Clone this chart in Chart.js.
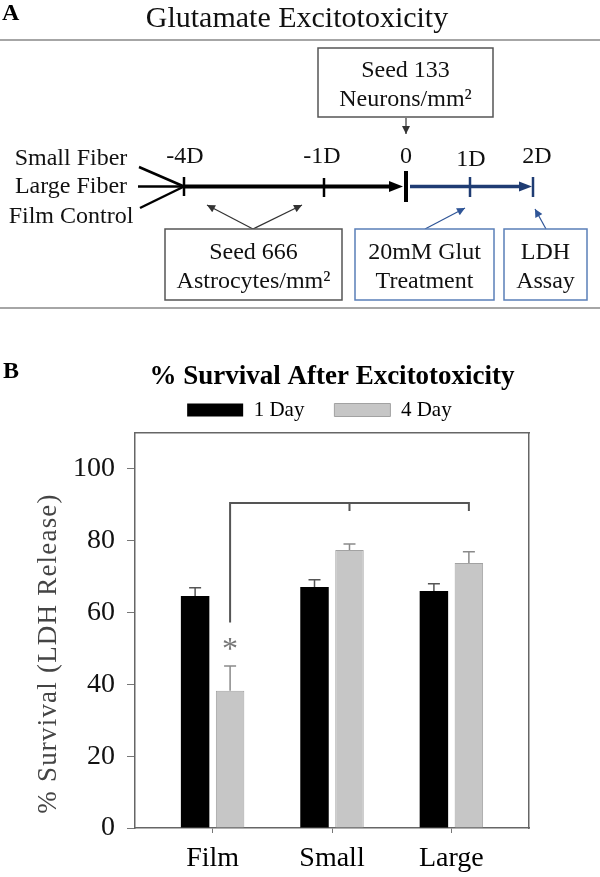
<!DOCTYPE html>
<html><head><meta charset="utf-8">
<script src="https://cdn.jsdelivr.net/npm/chart.js@4.4.1/dist/chart.umd.min.js"></script>
<style>
html,body{margin:0;padding:0;background:#fff;width:600px;height:877px;overflow:hidden;}
#wrap{position:relative;width:600px;height:877px;}
#c{position:absolute;left:0;top:0;}
svg{position:absolute;left:0;top:0;}
.lbl{position:absolute;font-family:'Liberation Serif','Times New Roman',serif;font-weight:bold;color:#000;}
</style></head><body>
<div id="wrap">
<canvas id="c" width="600" height="877"></canvas>
<svg width="600" height="320" viewBox="0 0 600 320" font-family="Liberation Serif, Times New Roman, serif">
  <defs>
    <marker id="ahg" viewBox="0 0 10 10" refX="10" refY="5" markerWidth="10" markerHeight="8" markerUnits="userSpaceOnUse" orient="auto"><path d="M0,0 L10,5 L0,10 z" fill="#333"/></marker>
    <marker id="ahb" viewBox="0 0 10 10" refX="10" refY="5" markerWidth="10" markerHeight="8" markerUnits="userSpaceOnUse" orient="auto"><path d="M0,0 L10,5 L0,10 z" fill="#2f5597"/></marker>
  </defs>
  <text x="2" y="20" font-size="24" font-weight="bold" fill="#000">A</text>
  <text x="297" y="27" font-size="30" text-anchor="middle" fill="#111">Glutamate Excitotoxicity</text>
  <line x1="0" y1="40" x2="600" y2="40" stroke="#a6a6a6" stroke-width="2"/>

  <rect x="318" y="48" width="175" height="69" fill="#fff" stroke="#555" stroke-width="1.5"/>
  <text x="405.5" y="77" font-size="24" text-anchor="middle" fill="#111">Seed 133</text>
  <text x="405.5" y="106" font-size="24" text-anchor="middle" fill="#111">Neurons/mm²</text>
  <line x1="406" y1="118" x2="406" y2="134" stroke="#333" stroke-width="1.2" marker-end="url(#ahg)"/>

  <text x="71" y="165" font-size="24" text-anchor="middle" fill="#111">Small Fiber</text>
  <text x="71" y="193" font-size="24" text-anchor="middle" fill="#111">Large Fiber</text>
  <text x="71" y="223" font-size="24" text-anchor="middle" fill="#111">Film Control</text>
  <line x1="139" y1="167" x2="184" y2="186.5" stroke="#000" stroke-width="2.5"/>
  <line x1="138" y1="186.5" x2="184" y2="186.5" stroke="#000" stroke-width="2.5"/>
  <line x1="140" y1="208" x2="184" y2="186.5" stroke="#000" stroke-width="2.5"/>

  <line x1="184" y1="186.5" x2="392" y2="186.5" stroke="#000" stroke-width="4"/>
  <polygon points="389,181 403,186.5 389,192" fill="#000"/>
  <line x1="184" y1="177" x2="184" y2="196" stroke="#000" stroke-width="2.5"/>
  <line x1="324" y1="178" x2="324" y2="197" stroke="#000" stroke-width="2.5"/>
  <line x1="406" y1="171" x2="406" y2="202" stroke="#000" stroke-width="4"/>

  <line x1="410" y1="186.5" x2="522" y2="186.5" stroke="#1f3c73" stroke-width="3.5"/>
  <polygon points="519,181.5 532,186.5 519,191.5" fill="#1f3c73"/>
  <line x1="470" y1="177" x2="470" y2="197" stroke="#1f3c73" stroke-width="2.5"/>
  <line x1="533" y1="177" x2="533" y2="197" stroke="#1f3c73" stroke-width="2.5"/>

  <text x="185" y="163" font-size="24" text-anchor="middle" fill="#111">-4D</text>
  <text x="322" y="163" font-size="24" text-anchor="middle" fill="#111">-1D</text>
  <text x="406" y="163" font-size="24" text-anchor="middle" fill="#111">0</text>
  <text x="471" y="166" font-size="24" text-anchor="middle" fill="#111">1D</text>
  <text x="537" y="163" font-size="24" text-anchor="middle" fill="#111">2D</text>

  <line x1="253" y1="229" x2="207" y2="205" stroke="#333" stroke-width="1.2" marker-end="url(#ahg)"/>
  <line x1="253" y1="229" x2="302" y2="205" stroke="#333" stroke-width="1.2" marker-end="url(#ahg)"/>
  <rect x="165" y="229" width="177" height="71" fill="#fff" stroke="#555" stroke-width="1.5"/>
  <text x="253.5" y="259" font-size="24" text-anchor="middle" fill="#111">Seed 666</text>
  <text x="253.5" y="288" font-size="24" text-anchor="middle" fill="#111">Astrocytes/mm²</text>

  <line x1="425" y1="229" x2="465" y2="208" stroke="#2f5597" stroke-width="1.2" marker-end="url(#ahb)"/>
  <rect x="355" y="229" width="139" height="71" fill="#fff" stroke="#5a7fb8" stroke-width="1.5"/>
  <text x="424.5" y="259" font-size="24" text-anchor="middle" fill="#111">20mM Glut</text>
  <text x="424.5" y="288" font-size="24" text-anchor="middle" fill="#111">Treatment</text>

  <line x1="546" y1="229" x2="535" y2="209" stroke="#2f5597" stroke-width="1.2" marker-end="url(#ahb)"/>
  <rect x="504" y="229" width="83" height="71" fill="#fff" stroke="#5a7fb8" stroke-width="1.5"/>
  <text x="545.5" y="259" font-size="24" text-anchor="middle" fill="#111">LDH</text>
  <text x="545.5" y="288" font-size="24" text-anchor="middle" fill="#111">Assay</text>

  <line x1="0" y1="308" x2="600" y2="308" stroke="#a6a6a6" stroke-width="2"/>
</svg>
<div class="lbl" style="left:3px;top:357px;font-size:24px;">B</div>
</div>
<script>
// ---- data ----
const categories = ['Film', 'Small', 'Large'];
const seriesNames = ['1 Day', '4 Day'];
const day1 = [64.6, 67.1, 66.0];
const day1Err = [2.3, 2.0, 2.0];
const day4 = [38.2, 77.4, 73.8];
const day4Err = [6.9, 1.7, 3.1];
const yTicks = [0, 20, 40, 60, 80, 100];
const yMax = 110;
const bracketTop = 90.5;
const bracketLeftEnd = 57.2;
const bracketDropEnd = 88.3;
const starValue = 47;
const yTitle = '% Survival (LDH Release)';
const chartTitle = '% Survival After Excitotoxicity';

const xPos = categories.map((c, i) => i + 1);
const FONT = "'Liberation Serif', 'Times New Roman', serif";

const overlay = {
  id: 'overlay',
  afterDatasetsDraw(chart) {
    const ctx = chart.ctx;
    const ys = chart.scales.y;
    chart.data.datasets.forEach((ds, di) => {
      const meta = chart.getDatasetMeta(di);
      meta.data.forEach((bar, i) => {
        const v = ds.data[i].y, e = ds.errors[i];
        const yt = ys.getPixelForValue(v + e);
        ctx.save();
        ctx.strokeStyle = ds.errColor;
        ctx.lineWidth = 1.5;
        ctx.beginPath();
        ctx.moveTo(bar.x, bar.y);
        ctx.lineTo(bar.x, yt);
        ctx.moveTo(bar.x - 6, yt);
        ctx.lineTo(bar.x + 6, yt);
        ctx.stroke();
        ctx.restore();
      });
    });
    const xs = chart.getDatasetMeta(1).data.map(b => b.x);
    const yTop = ys.getPixelForValue(bracketTop);
    const yDrop = ys.getPixelForValue(bracketDropEnd);
    ctx.save();
    ctx.strokeStyle = '#555';
    ctx.lineWidth = 2;
    ctx.beginPath();
    ctx.moveTo(xs[0], ys.getPixelForValue(bracketLeftEnd));
    ctx.lineTo(xs[0], yTop);
    ctx.lineTo(xs[2], yTop);
    ctx.lineTo(xs[2], yDrop);
    ctx.moveTo(xs[1], yTop);
    ctx.lineTo(xs[1], yDrop);
    ctx.stroke();
    ctx.fillStyle = '#777';
    ctx.font = '32px ' + FONT;
    ctx.textAlign = 'center';
    ctx.textBaseline = 'alphabetic';
    ctx.fillText('*', xs[0], ys.getPixelForValue(starValue));
    ctx.restore();
    const ca = chart.chartArea;
    ctx.save();
    ctx.translate(49, (ca.top + ca.bottom) / 2 + 23);
    ctx.rotate(-Math.PI / 2);
    ctx.font = '27px ' + FONT;
    try { ctx.letterSpacing = '1.2px'; } catch (e) {}
    ctx.fillStyle = '#444';
    ctx.textAlign = 'center';
    ctx.textBaseline = 'middle';
    ctx.fillText(yTitle, 0, 0);
    ctx.restore();
  }
};

new Chart(document.getElementById('c'), {
  type: 'bar',
  data: {
    datasets: [
      {
        label: seriesNames[0],
        data: xPos.map((x, i) => ({ x, y: day1[i] })),
        backgroundColor: '#000', borderColor: '#000', borderWidth: 0,
        categoryPercentage: 0.586, barPercentage: 0.814,
        errors: day1Err, errColor: '#555'
      },
      {
        label: seriesNames[1],
        data: xPos.map((x, i) => ({ x, y: day4[i] })),
        backgroundColor: '#c6c6c6', borderColor: '#a2a2a2', borderWidth: 1,
        categoryPercentage: 0.586, barPercentage: 0.814,
        errors: day4Err, errColor: '#8a8a8a'
      }
    ]
  },
  options: {
    responsive: false,
    animation: false,
    devicePixelRatio: 1,
    events: [],
    layout: { padding: { top: 360.8, left: 0, right: 0, bottom: 0 } },
    plugins: {
      tooltip: { enabled: false },
      title: {
        display: true, text: chartTitle, fullSize: false, color: '#000',
        font: { family: FONT, size: 27, weight: 'bold', lineHeight: 1.2 },
        padding: { top: 0, bottom: -23.7 }
      },
      legend: {
        display: true, position: 'top', fullSize: false,
        labels: {
          boxWidth: 56, boxHeight: 13, padding: 30, color: '#000',
          font: { family: FONT, size: 21 },
          generateLabels: chart => {
            const items = Chart.defaults.plugins.legend.labels.generateLabels(chart);
            // widen the last entry so the centred legend sits where the reference has it
            items[items.length - 1].text += '\u2003\u2009';
            return items;
          }
        }
      }
    },
    scales: {
      x: {
        type: 'linear', position: 'bottom', min: 0.35, max: 3.65, offset: false,
        afterBuildTicks: s => { s.ticks = xPos.map(v => ({ value: v })); },
        afterFit: s => { s.height = 49; },
        grid: { offset: false, drawOnChartArea: false, drawTicks: true, tickLength: 5, color: '#777', lineWidth: 1 },
        border: { display: true, color: '#666', width: 1.5 },
        ticks: {
          autoSkip: false, maxRotation: 0, padding: 9, color: '#000',
          font: { family: FONT, size: 28 },
          callback: v => categories[v - 1] || ''
        }
      },
      x2: {
        type: 'linear', axis: 'x', position: 'top', min: 0.35, max: 3.65, offset: false,
        afterFit: s => { s.height = 2.5; },
        grid: { display: false, offset: false }, ticks: { display: false },
        border: { display: true, color: '#666', width: 1.5 }
      },
      y: {
        type: 'linear', position: 'left', min: 0, max: yMax,
        afterBuildTicks: s => { s.ticks = yTicks.map(v => ({ value: v })); },
        afterFit: s => { s.width = 135; },
        grid: { drawOnChartArea: false, drawTicks: true, tickLength: 8, color: '#777', lineWidth: 1 },
        border: { display: true, color: '#666', width: 1.5 },
        ticks: { padding: 12, color: '#111', font: { family: FONT, size: 28 } }
      },
      y2: {
        type: 'linear', axis: 'y', position: 'right', min: 0, max: yMax,
        afterFit: s => { s.width = 71; },
        grid: { display: false }, ticks: { display: false },
        border: { display: true, color: '#666', width: 1.5 }
      }
    }
  },
  plugins: [overlay]
});
</script>
</body></html>
